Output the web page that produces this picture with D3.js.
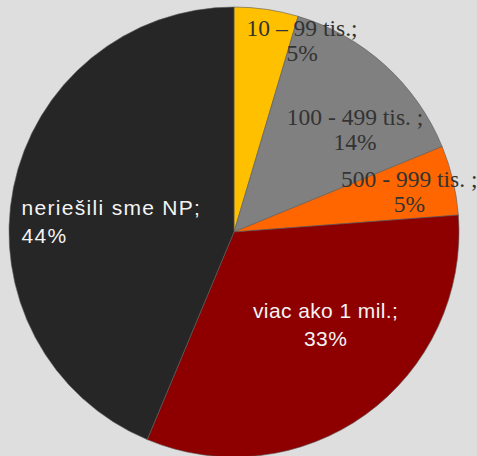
<!DOCTYPE html>
<html>
<head>
<meta charset="utf-8">
<script src="https://cdn.jsdelivr.net/npm/d3@7"></script>
<style>
  html, body { margin: 0; padding: 0; background: #dedede; }
  svg { display: block; }
</style>
</head>
<body>
<svg id="chart" width="477" height="456"></svg>
<script>
// slice data, clockwise from 12 o'clock
const categories = ['10 – 99 tis.;', '100 - 499 tis. ;', '500 - 999 tis. ;', 'viac ako 1 mil.;', 'neriešili sme NP;']
const values = [4.6, 14.2, 5.0, 32.5, 43.7]
const colors = ['#ffc000', '#808080', '#ff6600', '#8e0000', '#262626']

const width = 477, height = 456
const cx = 234, cy = 232, radius = 225

const svg = d3.select('#chart')
svg.append('rect').attr('width', width).attr('height', height).attr('fill', '#dedede')

const g = svg.append('g').attr('transform', 'translate(' + cx + ',' + cy + ')')

const pie = d3.pie().sort(null).value(d => d)
const arcs = pie(values)
const total = d3.sum(values)

const arc = d3.arc().innerRadius(0).outerRadius(radius)
const labelArc = d3.arc().innerRadius(radius * 0.65).outerRadius(radius * 0.65)

g.selectAll('path.slice')
    .data(arcs)
    .enter()
    .append('path')
    .attr('class', 'slice')
    .attr('d', arc)
    .attr('fill', (d, i) => colors[i])
    .attr('stroke', '#5a5a5a')
    .attr('stroke-width', 0.6)

// label tweaks: nudge from centroid, anchor, font style
const nudge = [[47, -51], [23, 1], [33, -11], [6, -33], [-69, 12]]
const anchors = ['middle', 'middle', 'middle', 'middle', 'start']
const serif = [true, true, true, false, false]
const spacing = [0, 0, 0, 0.4, 1.3]

const labels = g.selectAll('text.lbl')
    .data(arcs)
    .enter()
    .append('text')
    .attr('class', 'lbl')
    .attr('text-anchor', (d, i) => anchors[i])
    .attr('font-family', (d, i) => serif[i] ? '"Liberation Serif", "Times New Roman", serif' : '"Liberation Sans", Arial, sans-serif')
    .attr('font-size', (d, i) => serif[i] ? 23.5 : 21)
    .attr('letter-spacing', (d, i) => spacing[i])
    .attr('fill', (d, i) => serif[i] ? '#333333' : '#f4f4f4')
    .attr('transform', (d, i) => {
        const c = labelArc.centroid(d)
        return 'translate(' + (c[0] + nudge[i][0]) + ',' + (c[1] + nudge[i][1]) + ')'
    })

labels.append('tspan')
    .attr('x', 0)
    .attr('y', 0)
    .text((d, i) => categories[i])

labels.append('tspan')
    .attr('x', 0)
    .attr('dy', (d, i) => serif[i] ? 25 : 28)
    .text(d => Math.round(d.value / total * 100) + '%')
</script>
</body>
</html>
